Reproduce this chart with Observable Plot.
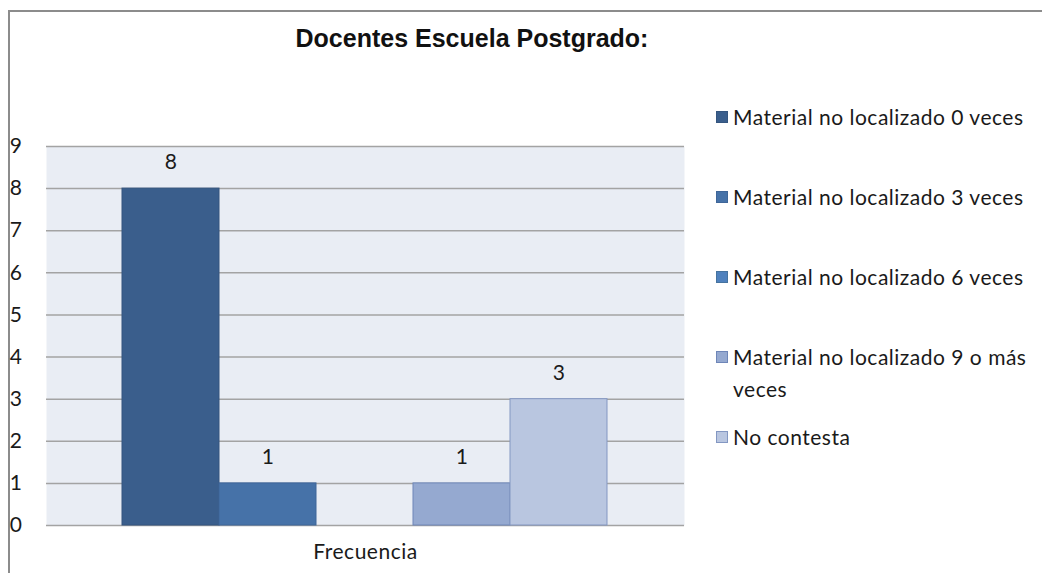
<!DOCTYPE html>
<html><head><meta charset="utf-8">
<script src="https://cdn.jsdelivr.net/npm/d3@7"></script>
<script src="https://cdn.jsdelivr.net/npm/@observablehq/plot@0.6"></script>
<style>
body{margin:0;background:#fff;}
#wrap{position:relative;width:1042px;height:573px;overflow:hidden;font-family:Lato,sans-serif;color:#1a1a1a;background:#fff}
#frame{position:absolute;left:8px;top:10px;width:1100px;height:700px;border-left:2px solid #8c8c8c;border-top:2px solid #8c8c8c;box-sizing:border-box}
#title{position:absolute;left:0;width:944px;top:24px;text-align:center;font:bold 25px "Liberation Sans Narrow","Liberation Sans",Arial,sans-serif;color:#111}
#chart{position:absolute;left:0;top:0}
.item{position:absolute;left:716px;width:324px;display:flex;align-items:flex-start;font-size:21px;letter-spacing:0.5px;line-height:32px}
.sw{width:12px;height:12px;margin-top:10px;margin-right:5px;flex:none;box-sizing:border-box;border:1px solid}
</style></head>
<body><div id="wrap"><div id="frame"></div><div id="title"></div><div id="chart"></div></div>
<script>
const title = "Docentes Escuela Postgrado:";
const category = "Frecuencia";
const series = ["Material no localizado 0 veces","Material no localizado 3 veces","Material no localizado 6 veces","Material no localizado 9 o más veces","No contesta"];
const values = [8, 1, 0, 1, 3];
const colors = ["#3a5e8c", "#4672a8", "#4f81bd", "#95a9d0", "#b9c6e0"];
const strokes = ["#34557f", "#3e6699", "#45739f", "#6e86b8", "#8397c2"];
const yTicks = [0,1,2,3,4,5,6,7,8,9];

const data = series.map((s, i) => ({serie: s, valor: values[i]}));

document.getElementById("title").textContent = title;

const chart = Plot.plot({
  width: 700, height: 573,
  marginTop: 146, marginBottom: 48, marginLeft: 46, marginRight: 16,
  style: {fontFamily: "Lato, sans-serif", fontSize: "20px", color: "#1a1a1a", background: "transparent", letterSpacing: "0.5px"},
  x: {domain: series, padding: 0, insetLeft: 75, insetRight: 77, axis: null},
  y: {domain: [0, 9], axis: null},
  marks: [
    Plot.frame({fill: "#e9edf4"}),
    Plot.gridY(yTicks, {stroke: "#a3a3a3", strokeOpacity: 1, strokeWidth: 1.5}),
    ...series.map((s, i) => Plot.barY([data[i]], {x: "serie", y: "valor", fill: colors[i], stroke: strokes[i], strokeWidth: 1})),
    Plot.text(data.filter(d => d.valor > 0), {x: "serie", y: "valor", text: d => String(d.valor), dy: -26, fontSize: 21, fill: "#1a1a1a"}),
    Plot.axisY(yTicks, {tickSize: 0, tickPadding: 24, fontSize: 21, label: null, tickFormat: d => String(d), fill: "#1a1a1a"}),
    Plot.text([category], {frameAnchor: "bottom", dy: 33, fontSize: 21, fill: "#1a1a1a"})
  ]
});
document.getElementById("chart").appendChild(chart);

const wrap = document.getElementById("wrap");
series.forEach((s, i) => {
  const it = document.createElement("div");
  it.className = "item";
  it.style.top = (101 + i * 80) + "px";
  const sw = document.createElement("div");
  sw.className = "sw";
  sw.style.background = colors[i];
  sw.style.borderColor = strokes[i];
  const tx = document.createElement("div");
  tx.textContent = s;
  it.appendChild(sw); it.appendChild(tx);
  wrap.appendChild(it);
});
</script></body></html>
